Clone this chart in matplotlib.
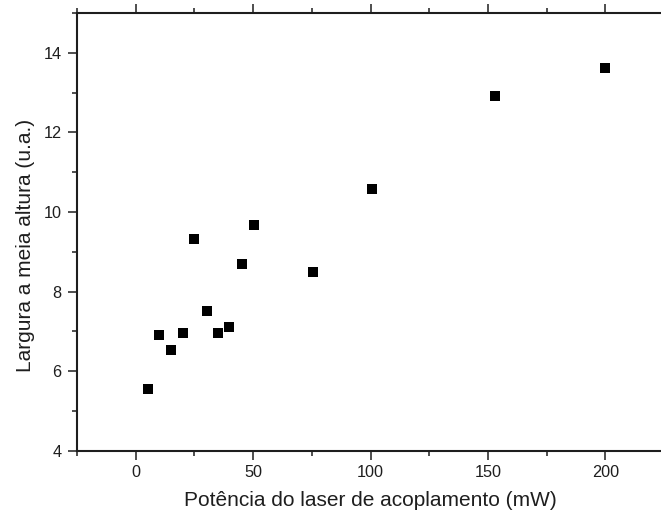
import matplotlib
matplotlib.use("Agg")
import matplotlib.pyplot as plt
from matplotlib.ticker import MultipleLocator

# Coupling laser power (mW) and half-height width (a.u.)
potencia = [5.1, 9.9, 14.9, 20.0, 24.7, 30.3, 34.9, 39.8, 45.3, 50.3, 75.3, 100.8, 153.0, 200.0]
largura = [5.55, 6.90, 6.53, 6.96, 9.32, 7.52, 6.95, 7.11, 8.70, 9.68, 8.50, 10.58, 12.91, 13.62]

x_ticks = [0, 50, 100, 150, 200]
y_ticks = [4, 6, 8, 10, 12, 14]

plt.rcParams["font.family"] = ["Liberation Sans", "DejaVu Sans"]
ink = "#1e1e1e"

fig = plt.figure(figsize=(6.61, 5.15), dpi=100)
ax = fig.add_axes([77 / 661, 1 - 450.7 / 515, (664 - 77) / 661, (450.7 - 13) / 515])

ax.plot(potencia, largura, linestyle="none", marker="s", markersize=7.0,
        color="black", markeredgewidth=0)

ax.set_xlim(-25, 225)
ax.set_ylim(4, 15)
ax.set_xticks(x_ticks)
ax.set_yticks(y_ticks)
ax.xaxis.set_minor_locator(MultipleLocator(25))
ax.yaxis.set_minor_locator(MultipleLocator(1))

for side in ("left", "bottom", "top"):
    ax.spines[side].set_linewidth(1.5)
    ax.spines[side].set_color(ink)
ax.spines["right"].set_visible(False)

ax.tick_params(which="both", direction="out", top=True, right=False,
               labeltop=False, color=ink, width=1.1)
ax.tick_params(which="major", length=6.5, labelsize=11.7, labelcolor=ink)
ax.tick_params(axis="x", which="major", pad=3.5)
ax.tick_params(axis="y", which="major", pad=4.5)
ax.tick_params(which="minor", length=3.8)

ax.set_xlabel("Potência do laser de acoplamento (mW)", fontsize=15, color=ink, labelpad=8)
ax.set_ylabel("Largura a meia altura (u.a.)", fontsize=15, color=ink)
ax.yaxis.set_label_coords(-0.071, 0.47)

fig.savefig("out.png", dpi=100)
